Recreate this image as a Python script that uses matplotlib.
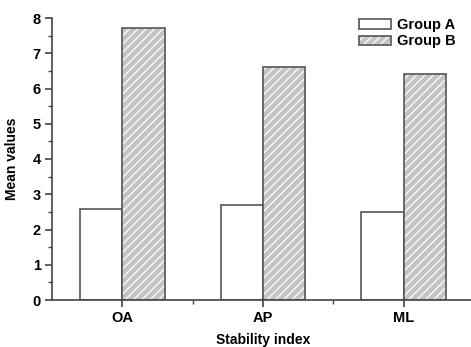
import matplotlib
matplotlib.use("Agg")
import matplotlib.pyplot as plt
import numpy as np
from matplotlib.ticker import MultipleLocator, FixedLocator

plt.rcParams['font.family'] = ['Liberation Sans', 'DejaVu Sans']
plt.rcParams['hatch.linewidth'] = 0.9

categories = ["OA", "AP", "ML"]
group_a = [2.57, 2.70, 2.50]
group_b = [7.73, 6.60, 6.40]

fig = plt.figure(figsize=(4.71, 3.47), dpi=100)
ax = fig.add_axes([52/471, 47/347, (474-52)/471, (300-18)/347])

x = np.arange(1, len(categories) + 1)
w = 0.3
edge = '#555555'
ha = ax.bar(x - w/2, group_a, width=w, color='white', edgecolor=edge, linewidth=1.2)
hb_fill = ax.bar(x + w/2, group_b, width=w, color='#c4c4c4', edgecolor='white', linewidth=0,
                 hatch='////')
hb_edge = ax.bar(x + w/2, group_b, width=w, fill=False, edgecolor=edge, linewidth=1.2)

ax.set_xlim(0.5, 3.5)
ax.set_ylim(0, 8)
ax.set_xticks(x)
ax.set_xticklabels(categories, fontweight='bold', fontsize=10.5)
ax.xaxis.set_minor_locator(FixedLocator([1.5, 2.5]))
ax.yaxis.set_major_locator(MultipleLocator(1))
ax.yaxis.set_minor_locator(MultipleLocator(0.5))
for lab in ax.get_yticklabels():
    lab.set_fontweight('bold')
    lab.set_fontsize(10.5)

ax.spines['top'].set_visible(False)
ax.spines['right'].set_visible(False)
for s in ('left', 'bottom'):
    ax.spines[s].set_color('#444444')
    ax.spines[s].set_linewidth(1.2)
ax.tick_params(which='major', direction='out', length=5, width=1.2, color='#444444', pad=3)
ax.tick_params(which='minor', direction='out', length=3, width=1.0, color='#444444')

ax.set_xlabel('Stability index', fontweight='bold', fontsize=10, labelpad=6)
ax.set_ylabel('Mean values', fontweight='bold', fontsize=10, labelpad=10)

legprop = ax.xaxis.label.get_fontproperties().copy()
legprop.set_size(10.5)
leg = ax.legend([ha[0], (hb_fill[0], hb_edge[0])], ['Group A', 'Group B'],
                loc='upper right', bbox_to_anchor=(0.97, 1.02), frameon=False,
                prop=legprop, handlelength=2.2, handleheight=0.62,
                handletextpad=0.4, labelspacing=0.15, borderaxespad=0.0)

fig.savefig('out.png', dpi=100)
